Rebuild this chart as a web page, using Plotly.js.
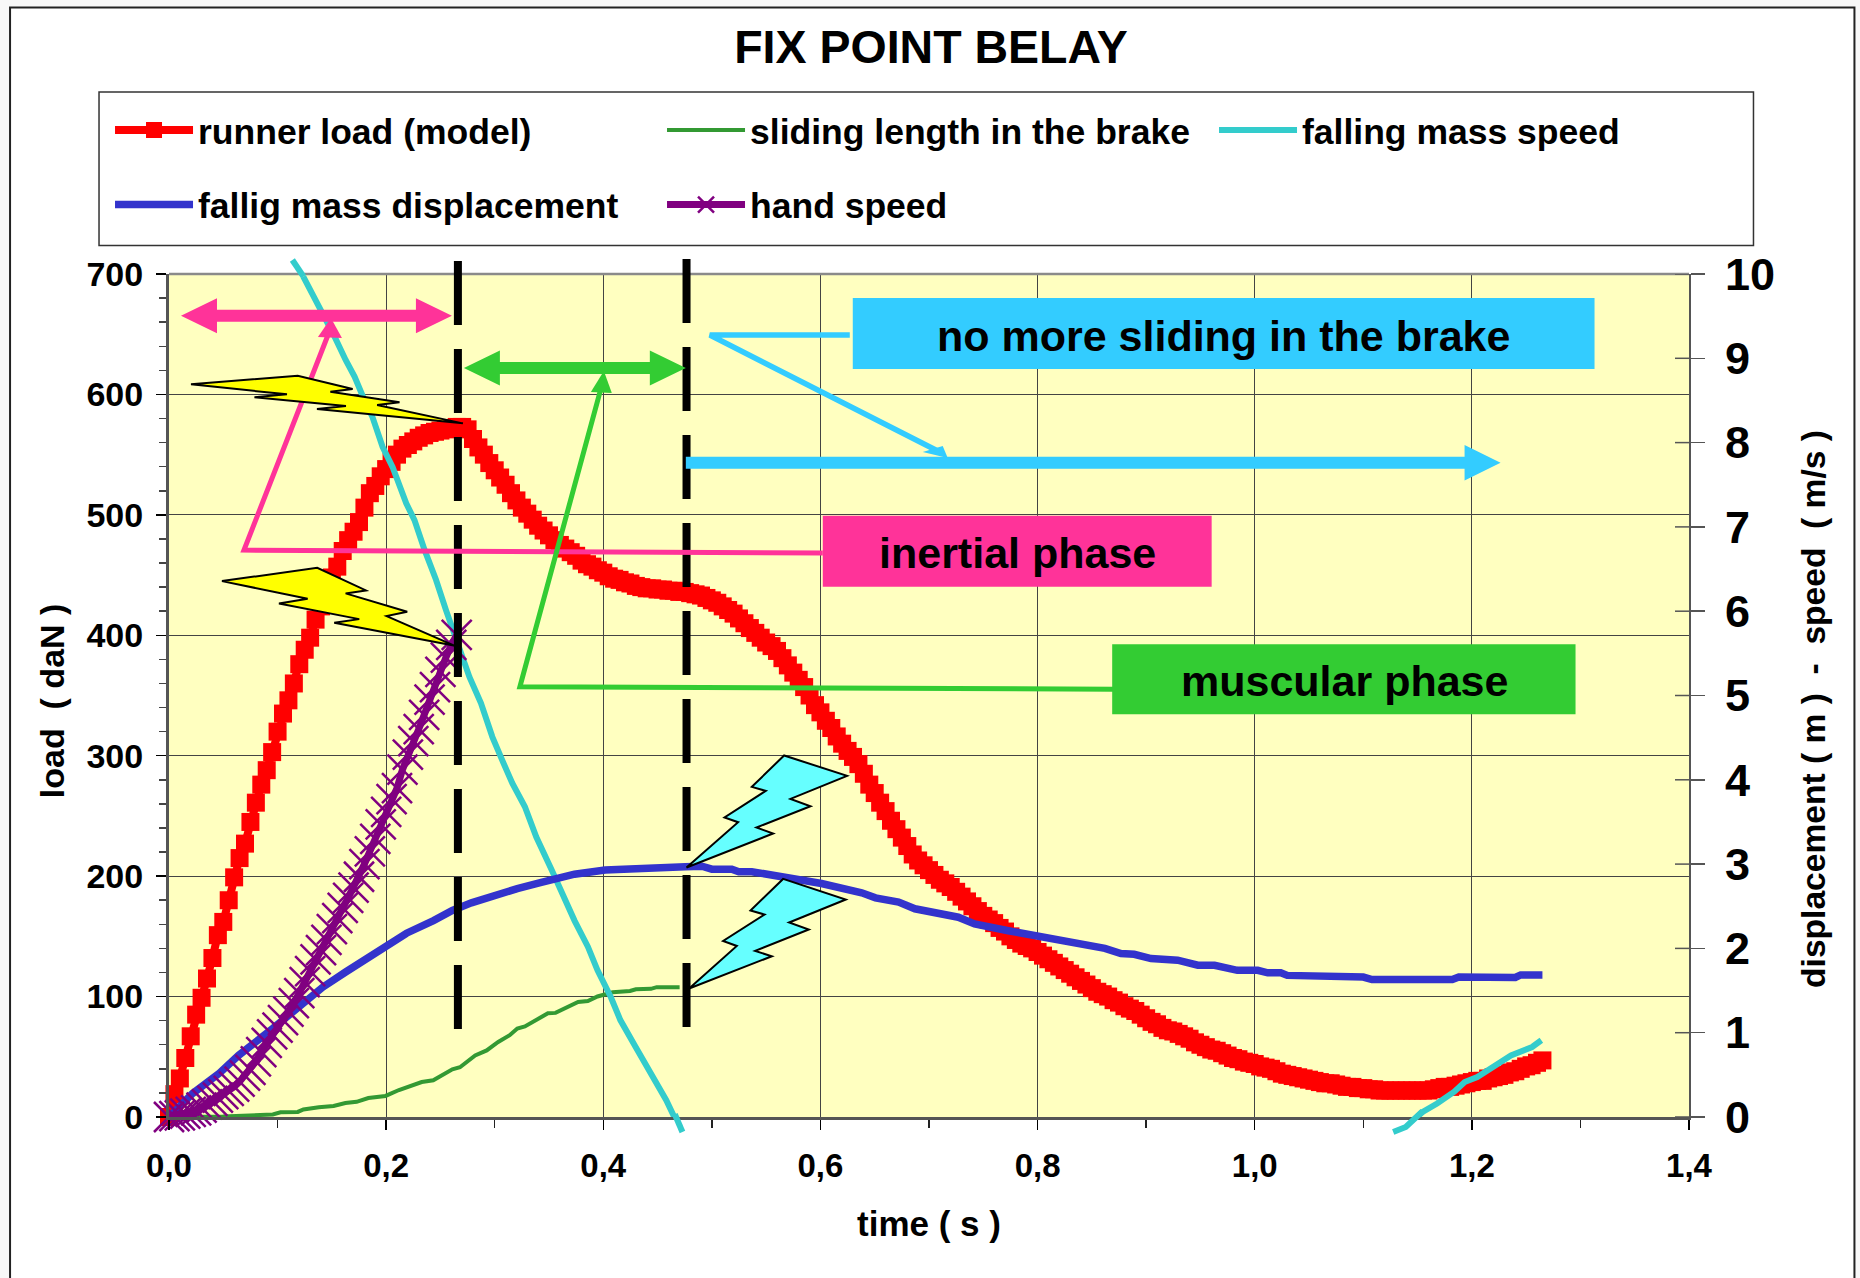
<!DOCTYPE html>
<html><head><meta charset="utf-8">
<script src="https://cdn.plot.ly/plotly-3.0.1.min.js"></script>
<style>html,body{margin:0;padding:0;background:#f8f8f8;overflow:hidden}</style>
</head><body><div id="chart" style="width:1860px;height:1278px"></div>
<script>
// ---------- chart data ----------
const chartTitle = "FIX POINT BELAY";
const xTitle = "time ( s )";
const yTitle = "load\u00a0\u00a0( daN )";
const y2Title = "displacement ( m )\u00a0\u00a0-\u00a0\u00a0speed\u00a0\u00a0( m/s )";
const seriesNames = ["runner load (model)","sliding length in the brake","falling mass speed","fallig mass displacement","hand speed"];
const sampleStep = 0.005;   // runner load and hand speed are sampled every 5 ms
const runnerLoad = [0,19,32,49,67,85,99,115,132,151,162,180,199,215,227,245,261,276,288,303,
320,335,346,360,376,388,398,413,424,436,448,457,470,479,486,494,506,518,524,532,
538,544,550,555,558,561,564,566,568,569,570,571,572,573,573,571,563,556,550,543,
537,531,525,518,512,506,501,496,491,487,483,479,475,472,469,466,462,459,457,454,
452,449,447,446,444,443,441,440,439,439,438,438,437,437,436,436,435,434,433,431,
429,427,424,421,418,414,410,406,402,398,394,391,387,381,375,369,363,357,350,342,
336,329,323,316,310,304,299,293,285,276,269,261,254,246,239,232,225,218,213,209,
205,201,197,194,191,187,183,179,175,171,167,164,161,157,154,150,147,144,142,140,
137,134,131,128,125,122,119,116,113,110,107,104,102,100,97,95,92,90,88,85,
82,79,77,74,72,71,69,67,65,62,60,58,56,55,53,51,49,48,46,45,
44,42,41,40,38,36,35,34,33,32,31,30,29,28,28,27,26,25,25,24,
24,23,23,22,22,22,22,22,22,22,22,22,22,23,24,25,25,26,27,28,
29,30,30,32,33,34,35,37,38,40,42,43,45,47];
const handSpeed = [0,.01,.02,.04,.06,.08,.11,.15,.19,.23,.27,.31,.36,.42,.49,.56,.66,.77,.88,.98,
1.06,1.15,1.25,1.35,1.47,1.60,1.73,1.87,1.98,2.10,2.23,2.36,2.48,2.60,2.72,2.85,3.00,3.15,3.30,3.47,
3.62,3.77,3.90,4.12,4.30,4.46,4.60,4.77,4.95,5.10,5.28,5.45,5.60,5.72];
const massSpeedTime = [.1237,.1319,.1422,.1524,.1627,.171,.1811,.1875,.1967,.2059,.2185,.2261,.2353,.246,.2552,.2675,.2767,.2873,.2978,.307,.3162,.3278,.3383,.3525,.3594,.3735,.3858,.3947,.407,.4157,.4298,.4439,.458,.472,null,1.127,1.139,1.1547,1.168,1.1838,1.1934,1.205,1.2206,1.236,1.2555,1.264];
const massSpeed = [9.97,9.77,9.53,9.26,8.98,8.78,8.47,8.30,7.95,7.71,7.28,7.08,6.73,6.37,6.01,5.57,5.22,4.91,4.51,4.23,3.96,3.68,3.32,2.93,2.73,2.33,2.02,1.74,1.42,1.15,.83,.52,.2,-.18,null,-.18,-.12,.06,.16,.3,.415,.475,.61,.73,.83,.91];
const displacementTime = [0,.0218,.0464,.064,.0956,.12,.1416,.1627,.1939,.2188,.2436,.261,.2785,.3033,.3208,.342,.3735,.4017,.4263,.4755,.4908,.5,.5184,.5248,.5368,.555,.5708,.601,.638,.6507,.672,.687,.727,.742,.773,.7975,.819,.828,.8465,.862,.8768,.889,.9045,.929,.9476,.963,.984,1.0028,1.012,1.024,1.03,1.055,1.0607,1.10,1.108,1.182,1.188,1.24,1.245,1.265];
const displacement = [0,.28,.52,.73,1.05,1.32,1.54,1.72,1.98,2.18,2.33,2.45,2.54,2.65,2.71,2.78,2.88,2.93,2.95,2.97,2.975,2.94,2.94,2.91,2.91,2.87,2.83,2.77,2.66,2.6,2.55,2.47,2.37,2.29,2.21,2.155,2.09,2.09,2.03,2.0,1.94,1.93,1.88,1.86,1.8,1.8,1.74,1.74,1.71,1.71,1.68,1.68,1.66,1.66,1.63,1.63,1.66,1.655,1.685,1.685];
const slidingTime = [0,.0496,.0956,.1027,.1186,.1238,.138,.1516,.1625,.1728,.1836,.1994,.2118,.2223,.2328,.2434,.261,.268,.282,.2926,.3032,.3138,.3208,.3278,.342,.349,.356,.3768,.3858,.3947,.4087,.4246,.43,.4439,.4492,.4703];
const slidingLength = [0,.005,.03,.055,.06,.09,.115,.13,.165,.18,.225,.25,.32,.37,.415,.435,.565,.59,.73,.79,.89,.97,1.05,1.075,1.175,1.23,1.235,1.365,1.375,1.43,1.48,1.495,1.515,1.52,1.54,1.54];
const phaseLabels = ["no more sliding in the brake","inertial phase","muscular phase"];

// ---------- page geometry (pixels) for the drawn call-outs ----------
const L=169,R=1689.5,T=274,B=1116.7;
const px=X=>(X-L)/(R-L), py=Y=>(B-Y)/(B-T);
const pathOf=(pts,close)=>"M"+pts.map(p=>px(p[0]).toFixed(5)+" "+py(p[1]).toFixed(5)).join("L")+(close?"Z":"");
const paper={xref:"paper",yref:"paper"};
const poly=(pts,fill,lc,lw)=>({...paper,type:"path",path:pathOf(pts,true),fillcolor:fill,line:{color:lc||fill,width:lw||0},layer:"above"});
const stroke=(pts,c,w)=>({...paper,type:"path",path:pathOf(pts,false),line:{color:c,width:w},layer:"above"});
const box=(x0,y0,x1,y1,fill,lc,lw,layer)=>({...paper,type:"rect",x0:px(x0),x1:px(x1),y0:py(y0),y1:py(y1),fillcolor:fill,line:{color:lc||fill,width:lw||0},layer:layer||"above"});
const dbl=(x0,x1,y,c)=>poly([[x0,y],[x0+36,y-17.5],[x0+36,y-6],[x1-36,y-6],[x1-36,y-17.5],[x1,y],[x1-36,y+17.5],[x1-36,y+6],[x0+36,y+6],[x0+36,y+17.5]],c);
const dashLine=(x,y0,y1)=>({...paper,type:"line",x0:px(x),x1:px(x),y0:py(y0),y1:py(y1),line:{color:"#000",width:8,dash:"64px,24px"},layer:"above"});
const PINK="#ff3399",GREEN="#33cc33",SKY="#33ccff",YEL="#ffff00",CY="#66ffff",TEAL="#33cccc";

const shapes=[
 box(10,7.5,1855,1320,"#ffffff","#222222",2,"below"),
 box(L,T,R,B,"#ffffc0","#ffffc0",0,"below"),
 box(99,92,1754,245.6,"#ffffff","#333333",1.5,"below"),
 // top edge of the plot
 {...paper,type:"line",x0:0,x1:1,y0:1,y1:1,line:{color:"#8a8a8a",width:2.5},layer:"above"},
 // the speed line runs slightly past the plot frame at its cut ends
 stroke([[292.4,260],[303.6,276.7]],TEAL,6),
 stroke([[675,1114],[682.6,1131.7]],TEAL,6),
 stroke([[1393.6,1131.7],[1406.2,1126.7],[1423,1111]],TEAL,6),
 dashLine(458,261,1029),
 dashLine(686.7,259,1027),
 // pink: inertial phase
 stroke([[823,553],[244,550],[330,330]],PINK,5),
 poly([[331,318],[318,337],[342,338]],PINK),
 dbl(181,452,315.7,PINK),
 box(823,515.7,1212,586.7,PINK),
 // green: muscular phase
 stroke([[1114,689],[520,686.7],[602,385]],GREEN,5),
 poly([[604,371],[591,392],[612,393]],GREEN),
 dbl(464,686,368,GREEN),
 box(1112.5,644,1576,714,GREEN),
 // blue: no more sliding
 stroke([[850,335],[710,335],[940,452]],SKY,5.5),
 poly([[948,458],[923,452],[943,446]],SKY),
 poly([[686,456.7],[1465,456.7],[1465,445],[1501,462.7],[1465,480.5],[1465,468.7],[686,468.7]],SKY),
 box(853,298,1595,369,SKY),
 // lightning bolts
 poly([[191,384.3],[297.8,375.7],[352.7,389],[330.4,391.7],[399.6,402.3],[377.2,405],[463,423.3],[317,409],[346,406],[254.5,397.3],[287,394.3]],YEL,"#000",2),
 poly([[222,581],[317.3,567.7],[366,590.3],[345.7,593.3],[407.3,611.7],[386.7,616],[455,645.7],[334.3,622.7],[359.3,619],[279,603.3],[307.7,598.7]],YEL,"#000",2),
 poly([[686.7,867.3],[773.3,833.3],[756.7,827.3],[810.7,806],[790.7,798.7],[847.3,775.7],[784.3,755.3],[752,786.7],[766,790.7],[724.7,817.3],[738.3,822]],CY,"#000",2),
 poly([[689.3,988.3],[772,956],[755.3,950.7],[809,929.3],[789.3,922.3],[846,899.3],[783.3,878.7],[750.7,910.3],[764.7,914.3],[723.3,940.7],[737,945.7]],CY,"#000",2)
];
// right axis ticks cross the axis line: inner half
for(let v=0;v<=10;v++) shapes.push({xref:"paper",yref:"y2",type:"line",x0:1-14/(R-L),x1:1,y0:v,y1:v,line:{color:"#555",width:1.5},layer:"above"});

const FONT="Liberation Sans, Arial, sans-serif";
const lbl=(text,X,Y,size,angle)=>({xref:"paper",yref:"paper",x:px(X),y:py(Y),xanchor:"center",yanchor:"middle",text:text,showarrow:false,textangle:angle||0,font:{size:size,color:"#000",family:FONT,weight:700}});

const traces=[
 {name:seriesNames[0],y:runnerLoad,x0:0,dx:sampleStep,type:"scatter",mode:"lines+markers",line:{color:"#ff0000",width:8},marker:{symbol:"square",size:18,color:"#ff0000"},cliponaxis:false,legend:"legend"},
 {name:seriesNames[1],x:slidingTime,y:slidingLength,yaxis:"y2",type:"scatter",mode:"lines",line:{color:"#339933",width:4},cliponaxis:false,legend:"legend"},
 {name:seriesNames[2],x:massSpeedTime,y:massSpeed,yaxis:"y2",type:"scatter",mode:"lines",line:{color:TEAL,width:6},cliponaxis:false,connectgaps:false,legend:"legend"},
 {name:seriesNames[3],x:displacementTime,y:displacement,yaxis:"y2",type:"scatter",mode:"lines",line:{color:"#3333cc",width:7.5},cliponaxis:false,legend:"legend2"},
 {name:seriesNames[4],y:handSpeed,x0:0,dx:sampleStep,yaxis:"y2",type:"scatter",mode:"lines+markers",line:{color:"#800080",width:7},marker:{symbol:"x-thin-open",size:30,color:"#800080",line:{color:"#800080",width:2.5}},cliponaxis:false,legend:"legend2"}
];
const legendBase={orientation:"h",xanchor:"left",yanchor:"middle",x:px(110),bgcolor:"rgba(0,0,0,0)",borderwidth:0,itemwidth:78,entrywidth:459,entrywidthmode:"pixels",font:{size:35.5,family:FONT,weight:700,color:"#000"},traceorder:"normal",itemclick:false,itemdoubleclick:false};
const layout={
 width:1860,height:1278,
 margin:{l:L,r:1860-R,t:T,b:1278-B,autoexpand:false,pad:0},
 paper_bgcolor:"#f8f8f8",plot_bgcolor:"rgba(0,0,0,0)",
 separators:", ",
 font:{family:FONT,color:"#000"},
 title:{text:chartTitle,x:931/1860,xanchor:"center",y:1-47/1278,yanchor:"middle",font:{size:46.5,family:FONT,weight:700,color:"#000"}},
 showlegend:true,
 legend:{...legendBase,y:py(130.6)},
 legend2:{...legendBase,y:py(205)},
 xaxis:{range:[0,1.4],tick0:0,dtick:.2,tickformat:".1f",ticks:"outside",ticklen:10,tickwidth:1.5,tickcolor:"#000",ticklabelstandoff:7,
  minor:{dtick:.1,ticks:"outside",ticklen:8,tickwidth:1.5,tickcolor:"#222",showgrid:false},
  showgrid:true,gridcolor:"#444444",gridwidth:1,zeroline:false,showline:true,linecolor:"#555555",linewidth:3,
  tickfont:{size:33,family:FONT,weight:700},title:{text:xTitle,standoff:29,font:{size:35,family:FONT,weight:700}},automargin:false},
 yaxis:{range:[0,700],tick0:0,dtick:100,ticks:"outside",ticklen:10,tickwidth:1.5,tickcolor:"#000",ticklabelstandoff:6,
  minor:{dtick:20,ticks:"outside",ticklen:7,tickwidth:1.5,tickcolor:"#444",showgrid:false},
  showgrid:true,gridcolor:"#444444",gridwidth:1,zeroline:false,showline:true,linecolor:"#555555",linewidth:3,
  tickfont:{size:34,family:FONT,weight:700},automargin:false},
 yaxis2:{range:[0,10],overlaying:"y",side:"right",tick0:0,dtick:1,ticks:"outside",ticklen:14,tickwidth:1.5,tickcolor:"#555",ticklabelstandoff:11,
  showgrid:false,zeroline:false,showline:true,linecolor:"#555555",linewidth:2,
  tickfont:{size:45,family:FONT,weight:700},automargin:false},
 shapes:shapes,
 annotations:[lbl(phaseLabels[0],1224,335.6,43),lbl(phaseLabels[1],1017.6,552.7,43),lbl(phaseLabels[2],1345,681,43),
  lbl(yTitle,52,701,34,-90),lbl(y2Title,1814.6,708.7,33.6,-90)]
};
Plotly.newPlot("chart",traces,layout,{displayModeBar:false,staticPlot:true});
</script></body></html>
